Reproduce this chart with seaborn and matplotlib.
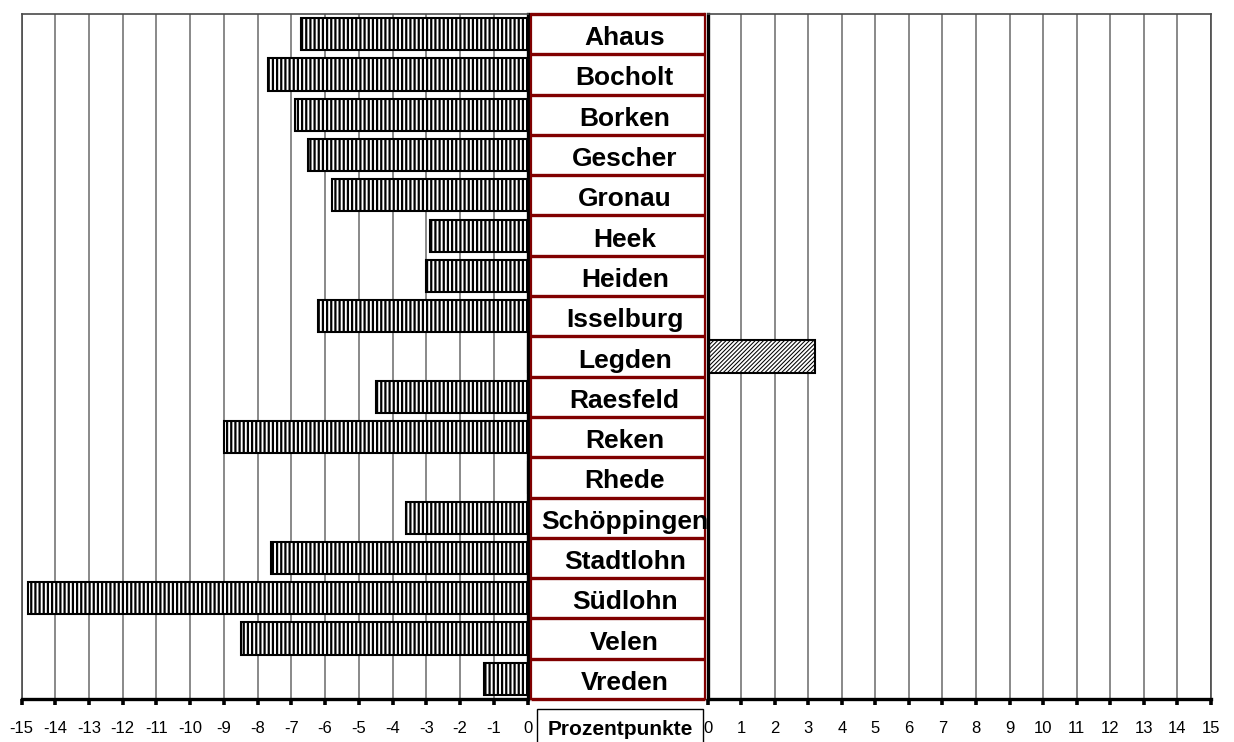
import matplotlib
matplotlib.use("Agg")
import matplotlib.pyplot as plt
import matplotlib.patches as mpatches
import seaborn as sns

# data
gemeinden = ["Ahaus", "Bocholt", "Borken", "Gescher", "Gronau", "Heek", "Heiden",
             "Isselburg", "Legden", "Raesfeld", "Reken", "Rhede", "Schöppingen",
             "Stadtlohn", "Südlohn", "Velen", "Vreden"]
veraenderung = [-6.7, -7.7, -6.9, -6.5, -5.8, -2.9, -3.0,
                -6.2, 3.2, -4.5, -9.0, 0.0, -3.6,
                -7.6, -14.8, -8.5, -1.3]
ticks_links = list(range(-15, 1))
ticks_rechts = list(range(0, 16))
tick_labels_links = [str(t) for t in ticks_links]
tick_labels_rechts = [str(t) for t in ticks_rechts]
achsentitel = "Prozentpunkte"

negativ = [v if v < 0 else 0 for v in veraenderung]
positiv = [v if v > 0 else 0 for v in veraenderung]

sns.set_style("white")
plt.rcParams["font.family"] = ["Liberation Sans", "DejaVu Sans"]
plt.rcParams["text.color"] = "black"
plt.rcParams["xtick.color"] = "black"
plt.rcParams["xtick.labelcolor"] = "black"
plt.rcParams["hatch.linewidth"] = 1.6

W, H = 1234, 742
fig = plt.figure(figsize=(W / 100, H / 100), dpi=100)


def box(x0, x1, y0=14, y1=699):
    return [x0 / W, 1 - y1 / H, (x1 - x0) / W, (y1 - y0) / H]


ax_l = fig.add_axes(box(21.5, 527.5))
ax_m = fig.add_axes(box(530.5, 705))
ax_r = fig.add_axes(box(707.5, 1211))

grau = "#808080"
rahmen = "#4a4a4a"
dunkelrot = "#800000"

# bars: negative changes left, positive changes right
sns.barplot(x=negativ, y=gemeinden, orient="h", ax=ax_l, color="white",
            saturation=1, edgecolor="black", linewidth=1.5, hatch="||||",
            width=0.8)
sns.barplot(x=positiv, y=gemeinden, orient="h", ax=ax_r, color="white",
            saturation=1, edgecolor="black", linewidth=1.5, hatch="////////",
            width=0.8)
for ax, hlw in [(ax_l, 1.6), (ax_r, 0.75)]:
    for p in ax.patches:
        if hasattr(p, "set_hatch_linewidth"):
            p.set_hatch_linewidth(hlw)

for ax, lim, ticks, labels in [(ax_l, (-15, 0), ticks_links, tick_labels_links),
                               (ax_r, (0, 15), ticks_rechts, tick_labels_rechts)]:
    ax.set_xlim(*lim)
    ax.set_xticks(ticks)
    ax.set_xticklabels(labels)
    ax.set_xlabel("")
    ax.set_ylabel("")
    ax.set_yticks([])
    ax.set_axisbelow(True)
    ax.xaxis.grid(True, color=grau, linewidth=1.3)
    ax.tick_params(axis="x", bottom=True, direction="out", length=4, width=2.6,
                   color="black", pad=12, labelsize=12)
    ax.spines["bottom"].set_color("black")
    ax.spines["bottom"].set_linewidth(2.4)
    ax.spines["top"].set_color(rahmen)
    ax.spines["top"].set_linewidth(1.2)

ax_l.spines["left"].set_color(rahmen)
ax_l.spines["left"].set_linewidth(1.2)
ax_l.spines["right"].set_color("black")
ax_l.spines["right"].set_linewidth(2.4)
ax_r.spines["right"].set_color(rahmen)
ax_r.spines["right"].set_linewidth(1.2)
ax_r.spines["left"].set_color("black")
ax_r.spines["left"].set_linewidth(2.4)

# middle label column
n = len(gemeinden)
ax_m.set_xlim(0, 1)
ax_m.set_ylim(ax_l.get_ylim())
ax_m.set_xticks([])
ax_m.set_yticks([])
for s in ["top", "bottom"]:
    ax_m.spines[s].set_visible(False)
for s in ["left", "right"]:
    ax_m.spines[s].set_color(dunkelrot)
    ax_m.spines[s].set_linewidth(1.6)
ax_m.hlines([i - 0.5 for i in range(n + 1)], 0, 1, color=dunkelrot,
            linewidth=2.4, clip_on=False)
for i, name in enumerate(gemeinden):
    ax_m.text(0.54, i + 0.1, name, ha="center", va="center",
              fontsize=19, fontweight="bold")

# axis title box
fig.add_artist(mpatches.Rectangle((537 / W, -0.05), (703 - 537) / W,
                                  0.05 + 1 - 709 / H, transform=fig.transFigure,
                                  facecolor="white", edgecolor="black",
                                  linewidth=1))
fig.text(620 / W, 1 - 735 / H, achsentitel, ha="center", va="baseline",
         fontsize=15, fontweight="bold")

fig.savefig("out.png", dpi=100)
